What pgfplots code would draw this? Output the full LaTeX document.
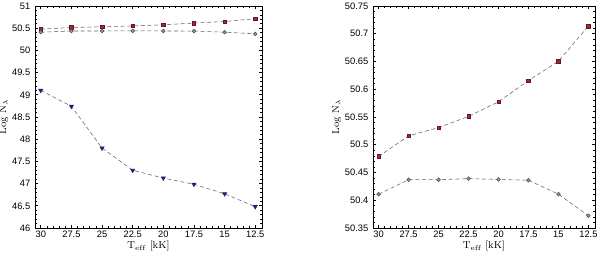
\documentclass[border=0pt]{standalone}
\usepackage{fontspec}
\usepackage{pgfplots}
\pgfplotsset{compat=1.18}
\setsansfont{Liberation Sans}
\definecolor{redm}{HTML}{9E2A35}
\definecolor{redb}{HTML}{6A1520}
\definecolor{greym}{HTML}{9A9A9A}
\definecolor{greyb}{HTML}{4A4A4A}
\definecolor{linec}{HTML}{606060}
\definecolor{bluem}{HTML}{1F2070}
\pgfplotstableread{
T red grey blue
30   50.479 50.411 49.10
27.5 50.516 50.437 48.74
25   50.531 50.437 47.80
22.5 50.551 50.439 47.30
20   50.5775 50.4375 47.125
17.5 50.6156 50.436 46.985
15   50.6505 50.411 46.77
12.5 50.7138 50.372 46.48
}\data
\pgfplotsset{
  myax/.style={
    scale only axis, height=166.5pt, anchor=south west,
    x dir=reverse, xmin=11.95, xmax=30.47,
    xtick={30,27.5,25,22.5,20,17.5,15,12.5},
    xticklabels={30,27.5,25,22.5,20,17.5,15,12.5},
    minor x tick num=4, minor y tick num=4,
    tick align=inside, major tick length=2.5pt, minor tick length=1.3pt,
    tick style={black, line width=0.5pt},
    axis line style={line width=0.6pt},
    ticklabel style={font=\sffamily\fontsize{7}{8}\selectfont},
    /pgf/number format/assume math mode=true,
    /pgf/number format/fixed,
    xlabel={\fontsize{7.5}{8}\selectfont T$_{\rm eff}$ [kK]},
    ylabel={\fontsize{7.5}{8}\selectfont Log N$_\lambda$},
    xlabel style={yshift=4.5pt},
    x tick label style={yshift=1pt},
  },
  redp/.style={densely dashed, color=linec, line width=0.4pt, mark=square*, mark size=1.3pt, mark options={solid, fill=redm, draw=redb}},
  greyp/.style={densely dashed, color=linec, line width=0.4pt, mark=*, mark size=1.4pt, mark options={solid, fill=greym, draw=greyb}},
  bluep/.style={densely dashed, color=linec, line width=0.4pt, mark=triangle*, mark size=1.8pt, mark options={solid, fill=bluem, draw=bluem, rotate=180}},
}
\begin{document}
\begin{tikzpicture}
\path[use as bounding box] (0,0) rectangle (450pt,189.75pt);
\begin{axis}[myax, width=170.25pt, at={(26.25pt,18.75pt)},
  ymin=46, ymax=51, ytick={46,46.5,...,51},
  yticklabels={46,46.5,47,47.5,48,48.5,49,49.5,50,50.5,51},
  ylabel style={yshift=-4pt}]
\addplot[redp] table[x=T,y=red]{\data};
\addplot[greyp] table[x=T,y=grey]{\data};
\addplot[bluep] table[x=T,y=blue]{\data};
\end{axis}
\begin{axis}[myax, width=166.5pt, at={(279.75pt,18.75pt)},
  ymin=50.35, ymax=50.75,
  ytick={50.35,50.4,50.45,50.5,50.55,50.6,50.65,50.7,50.75},
  yticklabels={50.35,50.4,50.45,50.5,50.55,50.6,50.65,50.7,50.75},
  ylabel style={yshift=-4pt}]
\addplot[redp] table[x=T,y=red]{\data};
\addplot[greyp] table[x=T,y=grey]{\data};
\end{axis}
\end{tikzpicture}
\end{document}
